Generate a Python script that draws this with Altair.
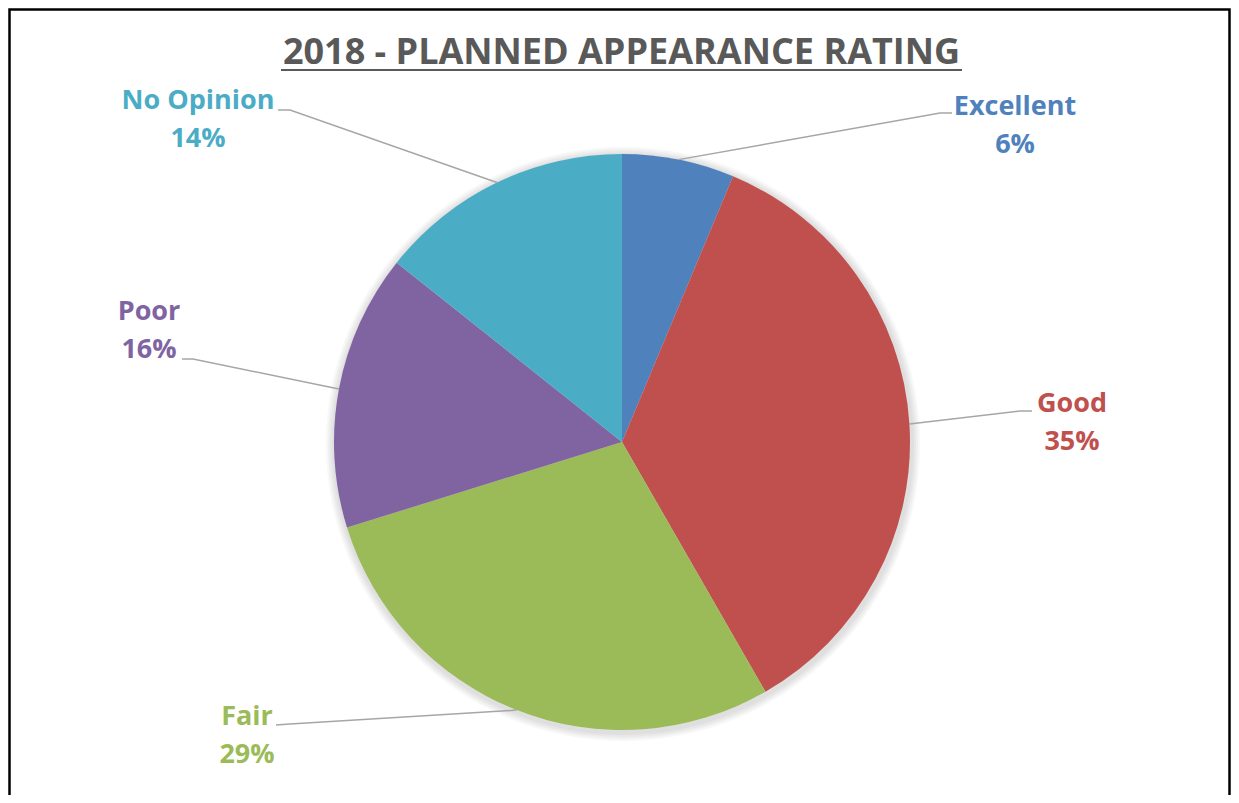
import altair as alt
import numpy as np
import pandas as pd

# ---- data ----
categories = ["Excellent", "Good", "Fair", "Poor", "No Opinion"]
values = [6.3, 35.4, 28.5, 15.5, 14.3]
pct_labels = ["6%", "35%", "29%", "16%", "14%"]
colors = ["#4F81BD", "#C0504D", "#9BBB59", "#8064A2", "#4BACC6"]
title_text = "2018 - PLANNED APPEARANCE RATING"

# ---- layout (pixels in the plot area) ----
W, H = 1223, 787
CX, CY, R = 614, 434, 288
label_x = [1007, 1064, 239, 141, 190]
label_y = [107, 404, 717, 312, 101]
LINE_GAP = 38
leader_elbow = [(932, 105), (1012, 403), (282, 716), (185, 351), (282, 102)]
leader_end = [(944, 105), (1024, 403), (268, 717), (174, 351), (270, 102)]
title_x, title_y = 613.5, 56
underline_x = (273, 954)
underline_y = 62
FONT = "Open Sans"

xs = alt.Scale(domain=[0, W], range=[0, W], nice=False, zero=False)
ys = alt.Scale(domain=[0, H], range=[0, H], nice=False, zero=False)
cscale = alt.Scale(domain=categories, range=colors)

pie_df = pd.DataFrame({"cat": categories, "value": values, "idx": range(len(categories))})

# leader lines: from slice edge at mid-angle to label
vals = np.array(values, dtype=float)
cum = np.cumsum(vals) - vals / 2
ang = 2 * np.pi * cum / vals.sum()
rows = []
for i, c in enumerate(categories):
    ex = CX + R * np.sin(ang[i])
    ey = CY - R * np.cos(ang[i])
    rows.append({"cat": c, "seq": 0, "x": ex, "y": ey})
    rows.append({"cat": c, "seq": 1, "x": leader_elbow[i][0], "y": leader_elbow[i][1]})
    rows.append({"cat": c, "seq": 2, "x": leader_end[i][0], "y": leader_end[i][1]})
lines_df = pd.DataFrame(rows)

lab_rows = []
for i, c in enumerate(categories):
    lab_rows.append({"cat": c, "text": c, "x": label_x[i], "y": label_y[i]})
    lab_rows.append({"cat": c, "text": pct_labels[i], "x": label_x[i], "y": label_y[i] + LINE_GAP})
labels_df = pd.DataFrame(lab_rows)

one = pd.DataFrame({"a": [0]})

layers = []

# frame
layers.append(
    alt.Chart(one).mark_rect(filled=False, stroke="black", strokeWidth=2.5).encode(
        x=alt.value(1.5), x2=alt.value(W - 1.5), y=alt.value(1.5), y2=alt.value(H + 30)
    )
)

# soft shadow
for r in [297, 295, 293, 291]:
    layers.append(
        alt.Chart(one).mark_arc(theta=0, theta2=2 * np.pi, outerRadius=r, fill="#000000", opacity=0.03).encode(
            x=alt.value(CX + 1), y=alt.value(CY + 2)
        )
    )

pie = alt.Chart(pie_df).mark_arc(outerRadius=R).encode(
    theta=alt.Theta("value:Q", stack=True),
    color=alt.Color("cat:N", scale=cscale, legend=None),
    order=alt.Order("idx:Q"),
    x=alt.value(CX),
    y=alt.value(CY),
)
layers.append(pie)

leaders = alt.Chart(lines_df).mark_line(color="#A6A6A6", strokeWidth=1.5).encode(
    x=alt.X("x:Q", scale=xs, axis=None),
    y=alt.Y("y:Q", scale=ys, axis=None),
    detail="cat:N",
    order="seq:Q",
)
layers.append(leaders)

labels = alt.Chart(labels_df).mark_text(
    font=FONT, fontSize=27, fontWeight="bold", align="center", baseline="alphabetic"
).encode(
    x=alt.X("x:Q", scale=xs, axis=None),
    y=alt.Y("y:Q", scale=ys, axis=None),
    text="text:N",
    color=alt.Color("cat:N", scale=cscale, legend=None),
)
layers.append(labels)

title_df = pd.DataFrame({"text": [title_text], "x": [title_x], "y": [title_y]})
title = alt.Chart(title_df).mark_text(
    font=FONT, fontSize=36, fontWeight="bold", color="#595959", align="center", baseline="alphabetic"
).encode(
    x=alt.X("x:Q", scale=xs, axis=None),
    y=alt.Y("y:Q", scale=ys, axis=None),
    text="text:N",
)
layers.append(title)

ul_df = pd.DataFrame({"x": [underline_x[0]], "x2": [underline_x[1]], "y": [underline_y]})
underline = alt.Chart(ul_df).mark_rule(color="#595959", strokeWidth=2.2).encode(
    x=alt.X("x:Q", scale=xs, axis=None),
    x2="x2:Q",
    y=alt.Y("y:Q", scale=ys, axis=None),
)
layers.append(underline)

chart = (
    alt.layer(*layers)
    .properties(width=W, height=H, autosize="none", padding=0, background="white")
    .configure_view(stroke="transparent")
)

chart.save("out.html", embed_options={"renderer": "svg", "actions": False})
